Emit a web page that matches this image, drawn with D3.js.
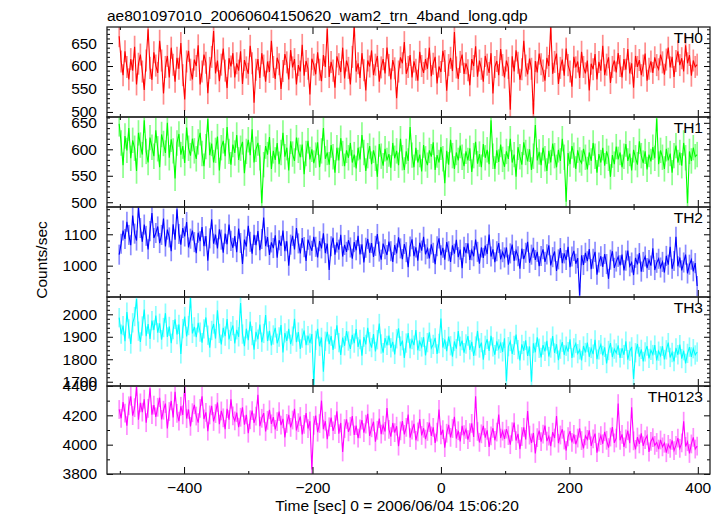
<!DOCTYPE html>
<html><head><meta charset="utf-8">
<script src="https://cdn.jsdelivr.net/npm/d3@7"></script>
<style>body{margin:0;background:#fff} svg{display:block} text{font-family:"Liberation Sans",Arial,Helvetica,sans-serif}</style>
</head><body><svg id="c" width="723" height="516"></svg>
<script>
// ---- data ----
const titleText = "ae801097010_20060604150620_wam2_trn_4band_long.qdp";
const xLabelText = "Time [sec] 0 = 2006/06/04 15:06:20";
const yLabelText = "Counts/sec";
const panelNames = ["TH0", "TH1", "TH2", "TH3", "TH0123"];
const tStart = -501, binSec = 3;
const xMajorTicks = [-400, -200, 0, 200, 400];
const xMinorTicks = [-500, -300, -100, 100, 300];
const yDomains = [[489, 685], [491, 661], [900, 1187], [1681, 2077], [3800, 4400]];
const yMajorTicks = [[500, 550, 600, 650], [500, 550, 600, 650], [1000, 1100], [1700, 1800, 1900, 2000], [3800, 4000, 4200, 4400]];
const yMinorStep = [10, 10, 20, 20, 100];
const errHalf = [24, 24, 32, 43, 64];

const th0 = [665,610,580,632,598,571,615,590,642,560,605,625,588,548,612,680,596,570,630,601,
585,655,612,540,598,622,575,640,603,566,618,594,650,580,527,610,633,592,571,614,
600,645,560,588,625,607,541,596,620,676,584,612,567,603,638,590,552,617,599,628,
575,606,590,632,561,613,597,583,644,606,520,592,615,574,628,601,566,610,587,655,
598,572,618,604,550,589,626,608,571,635,597,615,560,602,588,646,579,611,594,538,
616,603,582,630,592,567,624,598,681,576,609,590,553,621,604,587,640,573,612,596,
560,620,689,588,606,574,628,591,547,612,599,634,580,603,622,566,597,615,584,640,
602,571,613,595,530,588,619,606,652,583,598,624,575,610,592,568,631,600,585,615,
594,640,578,605,620,562,599,587,633,611,546,602,618,589,674,597,572,609,625,583,
606,591,558,615,600,643,577,612,594,566,622,603,585,628,540,598,611,580,637,602,
575,612,596,505,621,588,634,607,570,593,655,601,582,616,594,495,611,586,627,604,
590,568,618,600,686,583,609,627,561,596,614,579,638,602,588,555,620,597,610,574,
631,598,584,612,547,605,593,626,571,609,590,644,580,603,619,563,598,612,586,628,
600,575,615,592,637,584,606,553,622,598,613,580,601,627,568,594,610,585,619,602,
593,625,608,581,614,640,597,620,576,611,632,602,617,588,645,606,624,579,612,598,603];

const th1 = [648,612,570,625,598,640,583,617,602,559,631,608,590,655,596,575,622,604,587,636,
601,566,628,611,593,650,584,619,597,545,612,629,590,606,574,641,602,588,620,597,
582,614,631,592,568,605,657,589,611,575,598,624,560,603,616,587,642,596,571,609,
593,627,580,602,614,555,596,618,589,638,575,600,612,584,498,571,606,590,623,563,
597,580,612,572,594,631,586,603,560,615,591,578,622,598,585,609,553,592,616,581,
600,574,589,613,566,597,640,582,594,571,608,586,556,603,579,621,592,568,598,584,
612,575,590,564,603,581,627,594,559,588,606,572,598,583,548,610,587,569,601,579,
591,565,612,583,597,570,620,584,561,596,578,642,589,566,603,575,590,558,608,582,
570,598,586,613,561,589,575,604,582,536,597,571,618,588,563,594,579,607,585,568,
596,579,602,557,588,614,573,591,566,610,584,599,572,655,587,563,598,576,609,581,
567,596,582,620,575,590,548,604,586,571,613,594,577,600,561,587,646,579,595,570,
603,582,559,597,575,611,588,566,599,578,620,585,501,593,572,606,589,563,598,580,
574,601,585,562,594,578,612,587,556,591,575,603,569,596,583,548,589,572,605,581,
594,566,587,610,578,592,560,599,584,571,615,588,574,596,562,590,577,604,583,658,
572,598,585,563,601,579,592,556,588,607,575,594,569,612,584,498,596,578,603,586,590];

const th2 = [1035,1070,1112,1085,1140,1098,1065,1160,1102,1080,1185,1120,1076,1131,1095,1052,1110,1168,1088,1104,
1125,1072,1098,1150,1061,1115,1090,1046,1132,1083,1180,1101,1067,1120,1093,1139,1058,1086,1112,1075,
1040,1105,1078,1123,1062,1094,1016,1087,1148,1070,1099,1055,1116,1083,1041,1102,1068,1131,1079,1057,
1094,1043,1118,1072,1005,1083,1061,1127,1076,1038,1098,1065,1110,1049,1085,1153,1062,1091,1034,1074,
1056,1097,1025,1081,1063,1112,1046,1078,1000,1067,1095,1052,1120,1071,1039,1088,1059,1015,1083,1064,
1047,1092,1060,1026,1078,1055,1103,1040,1070,986,1062,1089,1035,1074,1051,1098,1029,1066,1044,1081,
1058,1022,1075,1049,1095,1036,1068,1010,1057,1085,1041,1072,1028,1063,1101,1045,1019,1070,1052,1034,
1077,1046,1012,1066,1039,1090,1055,1021,1069,1043,995,1061,1084,1030,1058,1016,1073,1048,1092,1036,
1054,1023,1068,1041,1005,1062,1087,1033,1057,1019,1075,1046,1012,1065,1038,1082,1027,1051,992,1060,
1040,1071,1018,1049,1030,1083,1044,1006,1058,1025,1064,1037,1099,1029,1052,1011,1046,1072,1020,1043,
1026,1058,1003,1039,1067,1015,1048,1030,990,1054,1021,1041,1076,1009,1035,1057,1018,1044,998,1031,
1052,1012,1036,1065,1001,1027,1045,983,1020,1056,1008,1039,1018,1060,995,1029,1047,1006,1024,905,
1033,1002,1041,1014,1053,989,1022,1044,971,1010,1030,996,1037,1005,958,1019,1046,993,1013,1028,
1001,1035,985,1016,1048,998,1010,970,1025,1004,1040,981,1012,1029,992,1018,1000,1055,986,1009,
1022,994,1012,978,1031,1003,1060,990,1015,1092,998,1026,985,1010,1035,975,1003,1019,982,1008,935];

const th3 = [1985,1912,1950,1880,2010,1935,1868,1962,1990,2068,1925,1877,1948,2021,1903,1956,1890,1972,1930,1994,
1918,1960,1887,1941,2005,1899,1946,1871,1932,1978,1910,1955,1824,1936,1990,1902,1950,2072,1915,1944,
1898,1962,1921,1874,1935,1986,1907,1852,1928,1957,1892,2018,1915,1866,1940,1903,1979,1888,1924,1950,
1870,1931,1900,2050,1912,1858,1936,1885,1968,1905,1843,1922,1889,1954,1876,1915,1997,1881,1926,1862,
1908,1940,1871,1899,1952,1830,1917,1882,1935,1867,1903,1980,1876,1921,1846,1894,1928,1863,1905,1872,
1912,1683,1884,1935,1858,1897,1745,1880,1922,1867,1903,1842,1890,1951,1874,1819,1896,1860,1925,1881,
1846,1909,1872,1934,1855,1888,1816,1899,1866,1940,1878,1852,1912,1835,1887,1959,1868,1829,1894,1862,
1905,1851,1877,1822,1891,1938,1859,1883,1806,1872,1916,1848,1887,1863,1930,1840,1879,1855,1898,1817,
1874,1920,1849,1866,1895,1824,1870,1981,1852,1888,1836,1901,1860,1812,1879,1847,1925,1858,1883,1829,
1868,1903,1842,1877,1815,1859,1926,1850,1874,1798,1862,1889,1837,1904,1855,1820,1880,1846,1871,1833,
1893,1702,1856,1879,1824,1862,1910,1843,1795,1866,1838,1884,1815,1857,1700,1871,1831,1898,1849,1808,
1863,1835,1882,1812,1850,1903,1828,1867,1796,1845,1876,1820,1858,1834,1889,1806,1851,1870,1825,1842,
1795,1859,1830,1874,1811,1848,1823,1886,1800,1842,1865,1817,1853,1781,1839,1872,1810,1845,1828,1862,
1806,1849,1820,1880,1798,1836,1855,1712,1829,1868,1812,1844,1790,1833,1859,1804,1840,1821,1863,1795,
1836,1815,1858,1799,1842,1874,1808,1830,1790,1851,1820,1865,1803,1838,1782,1826,1854,1811,1847,1819,1832];

const th0123 = [4240,4180,4290,4215,4130,4265,4330,4198,4252,4395,4170,4285,4222,4310,4150,4248,4385,4205,4270,4190,
4255,4320,4172,4235,4280,4110,4226,4298,4185,4360,4214,4160,4262,4203,4395,4178,4240,4125,4218,4272,
4195,4150,4248,4330,4175,4220,4092,4203,4265,4158,4212,4288,4140,4230,4183,4105,4245,4170,4310,4196,
4162,4218,4120,4187,4254,4136,4203,4078,4170,4232,4148,4195,4340,4126,4180,4215,4090,4166,4238,4142,
4188,4104,4157,4225,4133,4176,4050,4145,4203,4118,4168,4245,4097,4150,4192,4070,4138,4215,4110,4160,
3830,4132,4198,4085,4144,4300,4106,4160,4038,4122,4185,4094,4136,4228,4075,4148,3950,4110,4172,4087,
4125,4195,4066,4130,4045,4108,4168,4082,4140,4210,4060,4115,4156,4020,4098,4178,4072,4133,4090,4250,
4105,4055,4148,4082,4126,3990,4094,4160,4070,4118,4205,4048,4100,4142,4030,4087,4175,4063,4112,4038,
4090,4150,4060,4118,4012,4085,4240,4066,4102,3980,4078,4135,4050,4110,4190,4042,4095,4022,4128,4068,
4105,4035,4082,4145,4052,4330,4090,4016,4074,4128,4048,4098,3985,4060,4112,4030,4086,4205,4045,4092,
4040,4106,4062,4000,4088,4150,4028,4074,3970,4055,4118,4036,4230,4065,4012,4080,3940,4048,4096,4020,
4072,4130,4024,4058,3990,4085,4045,4195,4010,4066,4105,4032,3960,4054,4092,4015,4070,4003,4045,4112,
4028,3975,4060,4036,4098,3992,4040,4075,3945,4018,4062,4006,4088,4030,3980,4052,4120,4012,4045,4280,
4030,4070,3985,4040,4095,4010,4255,4026,3968,4052,4005,4078,3992,4035,4060,3950,4022,4048,3995,4015,
3970,4032,3985,4010,3945,4002,3975,4030,3960,3995,4045,3975,4012,4160,3988,4020,3940,4005,4050,3970,3990];

// ---- style / layout ----
const series = [th0, th1, th2, th3, th0123];
const colors = ["#ff0000", "#00ff00", "#0000ff", "#00ffff", "#ff00ff"];
const L = 107, R = 710;
const panelEdges = [27, 117, 207, 297, 386, 474];
const FS = 15.5;
const svg = d3.select("#c");
const x = d3.scaleLinear().domain([-520, 419]).range([L, R]);
const defs = svg.append("defs");

function styleAxis(g) {
  g.select(".domain").remove();
  g.attr("font-size", FS).attr("font-family", '"Liberation Sans",Arial,sans-serif');
  g.selectAll(".tick line").attr("stroke", "#000").attr("stroke-width", 1);
  g.selectAll(".tick text").attr("fill", "#000");
}

series.forEach((vals, k) => {
  const top = panelEdges[k], bot = panelEdges[k + 1];
  const y = d3.scaleLinear().domain(yDomains[k]).range([bot, top]);
  const g = svg.append("g");
  defs.append("clipPath").attr("id", "clip" + k)
    .append("rect").attr("x", L).attr("y", top).attr("width", R - L).attr("height", bot - top);
  const data = vals.map((v, i) => ({ t: tStart + i * binSec, v }));
  const plot = g.append("g").attr("clip-path", `url(#clip${k})`);
  plot.selectAll("line.err").data(data).join("line").attr("class", "err")
    .attr("x1", d => x(d.t)).attr("x2", d => x(d.t))
    .attr("y1", d => y(d.v - errHalf[k])).attr("y2", d => y(d.v + errHalf[k]))
    .attr("stroke", colors[k]).attr("stroke-opacity", 0.45).attr("stroke-width", 1.7);
  plot.append("path").datum(data)
    .attr("d", d3.line().x(d => x(d.t)).y(d => y(d.v)))
    .attr("fill", "none").attr("stroke", colors[k]).attr("stroke-width", 1.1);

  const [lo, hi] = yDomains[k];
  const minor = d3.range(Math.ceil(lo / yMinorStep[k]) * yMinorStep[k], hi + 0.001, yMinorStep[k])
    .filter(v => !yMajorTicks[k].includes(v));
  // left
  g.append("g").attr("transform", `translate(${L},0)`)
    .call(d3.axisLeft(y).tickValues(yMajorTicks[k]).tickSize(-6).tickPadding(10).tickFormat(d3.format("d"))).call(styleAxis);
  g.append("g").attr("transform", `translate(${L},0)`)
    .call(d3.axisLeft(y).tickValues(minor).tickSize(-3).tickFormat("")).call(styleAxis);
  // right
  g.append("g").attr("transform", `translate(${R},0)`)
    .call(d3.axisRight(y).tickValues(yMajorTicks[k]).tickSize(-6).tickFormat("")).call(styleAxis);
  g.append("g").attr("transform", `translate(${R},0)`)
    .call(d3.axisRight(y).tickValues(minor).tickSize(-3).tickFormat("")).call(styleAxis);
  // top
  g.append("g").attr("transform", `translate(0,${top})`)
    .call(d3.axisTop(x).tickValues(xMajorTicks).tickSize(-7).tickFormat("")).call(styleAxis);
  g.append("g").attr("transform", `translate(0,${top})`)
    .call(d3.axisTop(x).tickValues(xMinorTicks).tickSize(-3).tickFormat("")).call(styleAxis);
  // bottom
  const last = k === series.length - 1;
  g.append("g").attr("transform", `translate(0,${bot})`)
    .call(d3.axisBottom(x).tickValues(xMajorTicks).tickSize(-7).tickPadding(8)
      .tickFormat(last ? d3.format("d") : "")).call(styleAxis);
  g.append("g").attr("transform", `translate(0,${bot})`)
    .call(d3.axisBottom(x).tickValues(xMinorTicks).tickSize(-3).tickFormat("")).call(styleAxis);
  // frame
  g.append("rect").attr("x", L).attr("y", top).attr("width", R - L).attr("height", bot - top)
    .attr("fill", "none").attr("stroke", "#222").attr("stroke-width", 1.3);
  // panel label
  g.append("text").attr("x", R - 7).attr("y", top + 16).attr("text-anchor", "end")
    .attr("font-size", FS).text(panelNames[k]);
});

svg.append("text").attr("x", L).attr("y", 21).attr("font-size", FS).text(titleText);
svg.append("text").attr("x", 397).attr("y", 511).attr("text-anchor", "middle").attr("font-size", FS).text(xLabelText);
svg.append("text").attr("transform", "translate(47,260) rotate(-90)").attr("text-anchor", "middle")
  .attr("font-size", FS).text(yLabelText);
</script></body></html>
